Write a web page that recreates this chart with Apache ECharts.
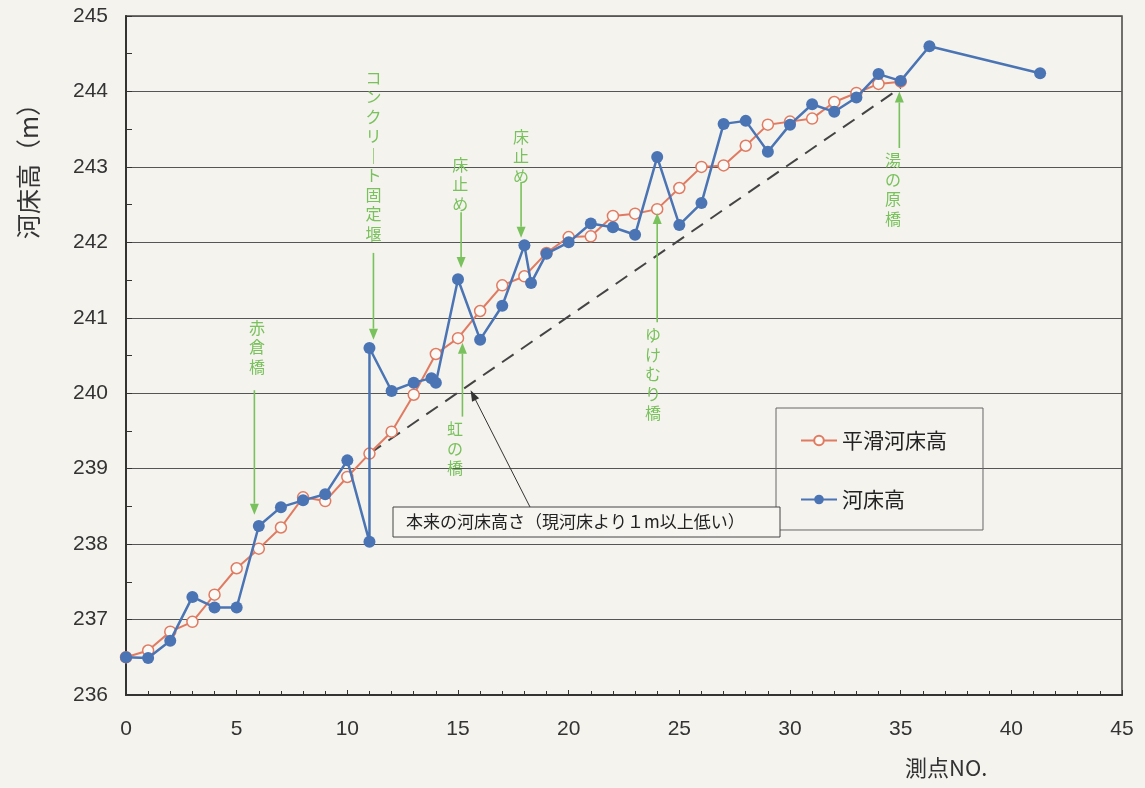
<!DOCTYPE html>
<html><head><meta charset="utf-8">
<script src="https://cdn.jsdelivr.net/npm/echarts@6/dist/echarts.min.js"></script>
<style>html,body{margin:0;padding:0;background:#f4f3ee}#c{width:1145px;height:788px}</style>
</head><body><div id="c"></div>
<script>
// ---- data ----
const smoothX = [0,1,2,3,4,5,6,7,8,9,10,11,12,13,14,15,16,17,18,19,20,21,22,23,24,25,26,27,28,29,30,31,32,33,34,35];
const smoothY = [236.50,236.59,236.84,236.97,237.33,237.68,237.94,238.22,238.62,238.57,238.89,239.20,239.49,239.98,240.52,240.73,241.09,241.43,241.55,241.86,242.07,242.08,242.35,242.38,242.44,242.72,243.00,243.02,243.28,243.56,243.60,243.64,243.86,243.98,244.10,244.13];
const bedX = [0,1,2,3,4,5,6,7,8,9,10,11,11,12,13,13.8,14,15,16,17,18,18.3,19,20,21,22,23,24,25,26,27,28,29,30,31,32,33,34,35,36.3,41.3];
const bedY = [236.50,236.49,236.72,237.30,237.16,237.16,238.24,238.49,238.58,238.66,239.11,238.03,240.60,240.03,240.14,240.20,240.14,241.51,240.71,241.16,241.96,241.46,241.85,242.00,242.25,242.20,242.10,243.13,242.23,242.52,243.57,243.61,243.20,243.56,243.83,243.73,243.92,244.23,244.14,244.60,244.24];
const originalX = [11, 35];
const originalY = [239.20, 244.05];
const seriesNames = ['平滑河床高', '河床高'];
const xName = '測点NO.';
const yName = '河床高（m）';
const calloutText = '本来の河床高さ（現河床より１m以上低い）';
const calloutTip = [15.57, 240.04];
// annotation labels: text x, text top (y value), arrow x, arrow start, arrow tip
const annoLabels = ['赤倉橋','コンクリート固定堰','床止め','床止め','虹の橋','ゆけむり橋','湯の原橋'];
const annoTextX  = [5.92, 11.18, 15.10, 17.85, 14.87, 23.81, 34.65];
const annoTextY  = [241.00, 244.31, 243.16, 243.53, 239.65, 240.90, 243.22];
const annoArrowX = [5.80, 11.18, 15.14, 17.85, 15.20, 24.00, 34.94];
const annoFrom   = [240.04, 241.86, 242.40, 242.80, 239.69, 240.94, 243.25];
const annoTo     = [238.39, 240.71, 241.66, 242.06, 240.67, 242.39, 244.00];

const JP = '"Noto Sans CJK JP", sans-serif';
const GREEN = '#79c15c';
const chart = echarts.init(document.getElementById('c'), null, {renderer:'canvas'});
const zip = (a,b) => a.map((v,i)=>[v,b[i]]);

chart.setOption({
  backgroundColor: '#f4f3ee',
  animation: false,
  grid: {left:126, right:23, top:16, bottom:93, show:true, borderColor:'#444', borderWidth:1.5, backgroundColor:'transparent'},
  legend: {
    orient:'vertical', left:776, top:408, padding:[22,36,20,24], itemGap:38,
    itemWidth:36, itemHeight:12, borderColor:'#666', borderWidth:1,
    textStyle:{fontSize:21, fontFamily:JP, color:'#222'},
    data: seriesNames
  },
  xAxis: {
    type:'value', min:0, max:45, interval:5,
    axisLine:{show:true, lineStyle:{color:'#333', width:2}},
    axisTick:{show:true, inside:true, length:5, lineStyle:{color:'#333'}},
    minorTick:{show:true, splitNumber:5, length:4, lineStyle:{color:'#333'}},
    splitLine:{show:false},
    axisLabel:{margin:24, fontSize:21, fontFamily:'"Liberation Sans Narrow","Liberation Sans",sans-serif', color:'#333'}
  },
  yAxis: {
    type:'value', min:236, max:245, interval:1,
    axisLine:{show:true, lineStyle:{color:'#333', width:2}},
    axisTick:{show:true, inside:true, length:6, lineStyle:{color:'#333'}},
    minorTick:{show:true, splitNumber:2, length:6, lineStyle:{color:'#333'}},
    splitLine:{show:true, lineStyle:{color:'#555', width:1}},
    axisLabel:{margin:18, fontSize:21, fontFamily:'"Liberation Sans",sans-serif', color:'#333'}
  },
  series: [
    {name:'本来', type:'line', data:zip(originalX, originalY), symbol:'none', z:1,
     lineStyle:{color:'#444', width:2, type:[14,9]}, silent:true},
    {name:seriesNames[0], type:'line', data:zip(smoothX, smoothY), z:2,
     symbol:'circle', symbolSize:11,
     lineStyle:{color:'#e07b62', width:2},
     itemStyle:{color:'#fbfaf6', borderColor:'#e07b62', borderWidth:1.5}},
    {name:seriesNames[1], type:'line', data:zip(bedX, bedY), z:3,
     symbol:'circle', symbolSize:12,
     lineStyle:{color:'#4a74b4', width:2.5},
     itemStyle:{color:'#4a74b4'}}
  ]
});

const px = (x,y) => chart.convertToPixel({gridIndex:0}, [x,y]);
function arrow(p0, p1, color, w, head, hw) {
  const dx = p1[0]-p0[0], dy = p1[1]-p0[1];
  const L = Math.sqrt(dx*dx+dy*dy), ux = dx/L, uy = dy/L;
  const bx = p1[0]-ux*head, by = p1[1]-uy*head;
  return [
    {type:'line', shape:{x1:p0[0], y1:p0[1], x2:bx, y2:by}, style:{stroke:color, lineWidth:w}, z:10},
    {type:'polygon', shape:{points:[[p1[0],p1[1]],[bx-uy*hw, by+ux*hw],[bx+uy*hw, by-ux*hw]]}, style:{fill:color}, z:10}
  ];
}
const g = [];
annoLabels.forEach((lab,i)=>{
  const t = px(annoTextX[i], annoTextY[i]);
  const vert = lab.split('').map(c => c==='ー' ? '｜' : c).join('\n');
  g.push({type:'text', x:t[0], y:t[1], z:10, style:{text:vert, fill:GREEN, font:'16px '+JP, align:'center', verticalAlign:'top', lineHeight:19.5}});
  g.push(...arrow(px(annoArrowX[i], annoFrom[i]), px(annoArrowX[i], annoTo[i]), GREEN, 1.6, 11, 4.5));
});
// callout
g.push({type:'rect', shape:{x:393, y:507, width:387, height:30}, style:{fill:'#f6f5f0', stroke:'#444', lineWidth:1}, z:11});
g.push({type:'text', x:406, y:522, z:12, style:{text:calloutText, fill:'#222', font:'17px '+JP, verticalAlign:'middle'}});
g.push(...arrow([530,507], px(calloutTip[0], calloutTip[1]), '#333', 1, 11, 4));
// axis names
g.push({type:'text', x:905, y:768, z:10, style:{text:xName, fill:'#333', font:'22px '+JP, verticalAlign:'middle'}});
g.push({type:'text', x:28, y:165, rotation:Math.PI/2, z:10, style:{text:yName, fill:'#333', font:'25px '+JP, align:'center', verticalAlign:'middle'}});
chart.setOption({graphic: g});
</script></body></html>
